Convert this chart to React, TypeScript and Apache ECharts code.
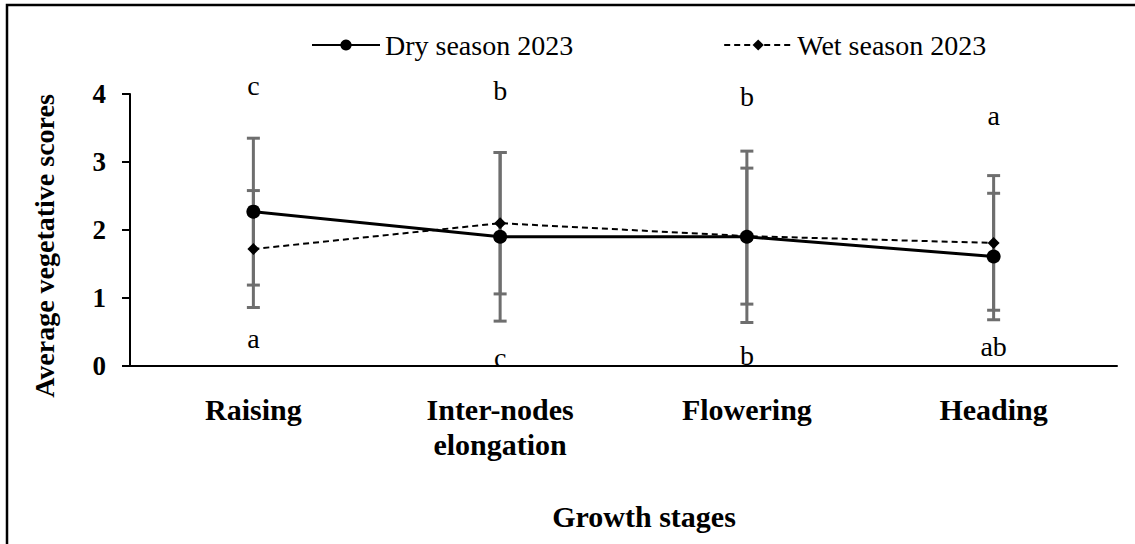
import React, { useEffect, useRef } from "react";
import * as echarts from "echarts";

const categories = ["Raising", "Inter-nodes\nelongation", "Flowering", "Heading"];
const seriesNames = ["Dry season 2023", "Wet season 2023"];
const dryMeans = [2.27, 1.9, 1.9, 1.61];
const wetMeans = [1.72, 2.1, 1.91, 1.81];
const dryErr = [1.08, 1.24, 1.26, 0.93];
const wetErr = [0.86, 1.04, 1.0, 0.99];
const topLetters = ["c", "b", "b", "a"];
const topLetterPos = [4.125, 4.05, 3.96, 3.68];
const bottomLetters = ["a", "c", "b", "ab"];
const bottomLetterPos = [0.4, 0.125, 0.155, 0.29];
const yTicks = [0, 1, 2, 3, 4];
const xTitle = "Growth stages";
const yTitle = "Average vegetative scores";

const SERIF = "Liberation Serif";

export default function App() {
  const ref = useRef<HTMLDivElement>(null);
  useEffect(() => {
    if (!ref.current) return;
    const chart = echarts.init(ref.current, undefined, { renderer: "svg" });

    const errData: number[][] = [];
    categories.forEach((_, i) => {
      errData.push([i, dryMeans[i], dryErr[i]]);
      errData.push([i, wetMeans[i], wetErr[i]]);
    });
    const letterTexts = [...topLetters, ...bottomLetters];
    const letterData = [
      ...topLetterPos.map((v, i) => [i, v]),
      ...bottomLetterPos.map((v, i) => [i, v]),
    ];

    const option: any = {
      animation: false,
      backgroundColor: "#ffffff",
      textStyle: { fontFamily: SERIF },
      grid: { left: 130, right: 18, top: 94, bottom: 178, containLabel: false },
      legend: {
        top: 26,
        left: 306,
        itemWidth: 68,
        itemHeight: 14,
        itemGap: 150,
        textStyle: { fontFamily: SERIF, fontSize: 28, color: "#000", fontWeight: "normal" },
        data: seriesNames,
      },
      xAxis: {
        type: "category",
        data: categories,
        boundaryGap: true,
        axisLine: { lineStyle: { color: "#000", width: 2 } },
        axisTick: { show: false },
        axisLabel: {
          interval: 0,
          margin: 26,
          color: "#000",
          fontFamily: SERIF,
          fontWeight: "bold",
          fontSize: 30,
          lineHeight: 35,
        },
      },
      yAxis: {
        type: "value",
        min: yTicks[0],
        max: yTicks[yTicks.length - 1],
        interval: 1,
        splitLine: { show: false },
        axisLine: { show: true, lineStyle: { color: "#000", width: 2 } },
        axisTick: { show: true, length: 8, lineStyle: { color: "#000", width: 2 } },
        axisLabel: {
          margin: 24,
          color: "#000",
          fontFamily: SERIF,
          fontWeight: "bold",
          fontSize: 27,
        },
      },
      graphic: [
        {
          type: "rect",
          shape: { x: 7, y: 5, width: 1300, height: 700 },
          style: { fill: "none", stroke: "#000", lineWidth: 2.5 },
          silent: true,
        },
        {
          type: "text",
          x: 644,
          y: 516,
          style: {
            text: xTitle,
            fontFamily: SERIF,
            fontWeight: "bold",
            fontSize: 30,
            fill: "#000",
            align: "center",
            verticalAlign: "middle",
          },
        },
        {
          type: "text",
          x: 44,
          y: 246,
          rotation: Math.PI / 2,
          style: {
            text: yTitle,
            fontFamily: SERIF,
            fontWeight: "bold",
            fontSize: 28,
            fill: "#000",
            align: "center",
            verticalAlign: "middle",
          },
        },
      ],
      series: [
        {
          type: "custom",
          name: "errors",
          z: 1,
          silent: true,
          data: errData,
          renderItem: (params: any, api: any) => {
            const x = api.value(0);
            const m = api.value(1);
            const e = api.value(2);
            const top = api.coord([x, m + e]);
            const bot = api.coord([x, m - e]);
            const hw = 6.5;
            const st = { stroke: "#6e6e6e", lineWidth: 3 };
            return {
              type: "group",
              children: [
                { type: "line", shape: { x1: top[0], y1: top[1], x2: bot[0], y2: bot[1] }, style: st },
                { type: "line", shape: { x1: top[0] - hw, y1: top[1], x2: top[0] + hw, y2: top[1] }, style: st },
                { type: "line", shape: { x1: bot[0] - hw, y1: bot[1], x2: bot[0] + hw, y2: bot[1] }, style: st },
              ],
            };
          },
        },
        {
          type: "custom",
          name: "letters",
          z: 5,
          silent: true,
          data: letterData,
          renderItem: (params: any, api: any) => {
            const p = api.coord([api.value(0), api.value(1)]);
            return {
              type: "text",
              x: p[0],
              y: p[1],
              style: {
                text: letterTexts[params.dataIndex],
                fontFamily: SERIF,
                fontSize: 28,
                fill: "#000",
                align: "center",
                verticalAlign: "middle",
              },
            };
          },
        },
        {
          type: "line",
          name: seriesNames[0],
          z: 3,
          data: dryMeans,
          symbol: "circle",
          symbolSize: 14,
          itemStyle: { color: "#000" },
          lineStyle: { color: "#000", width: 3 },
        },
        {
          type: "line",
          name: seriesNames[1],
          z: 4,
          data: wetMeans,
          symbol: "diamond",
          symbolSize: 12,
          itemStyle: { color: "#000" },
          lineStyle: { color: "#000", width: 2, type: [6, 4] },
        },
      ],
    };
    chart.setOption(option);
    return () => chart.dispose();
  }, []);
  return (
    <div
      ref={ref}
      style={{ position: "fixed", left: 0, top: 0, width: 1135, height: 544, background: "#fff" }}
    />
  );
}
